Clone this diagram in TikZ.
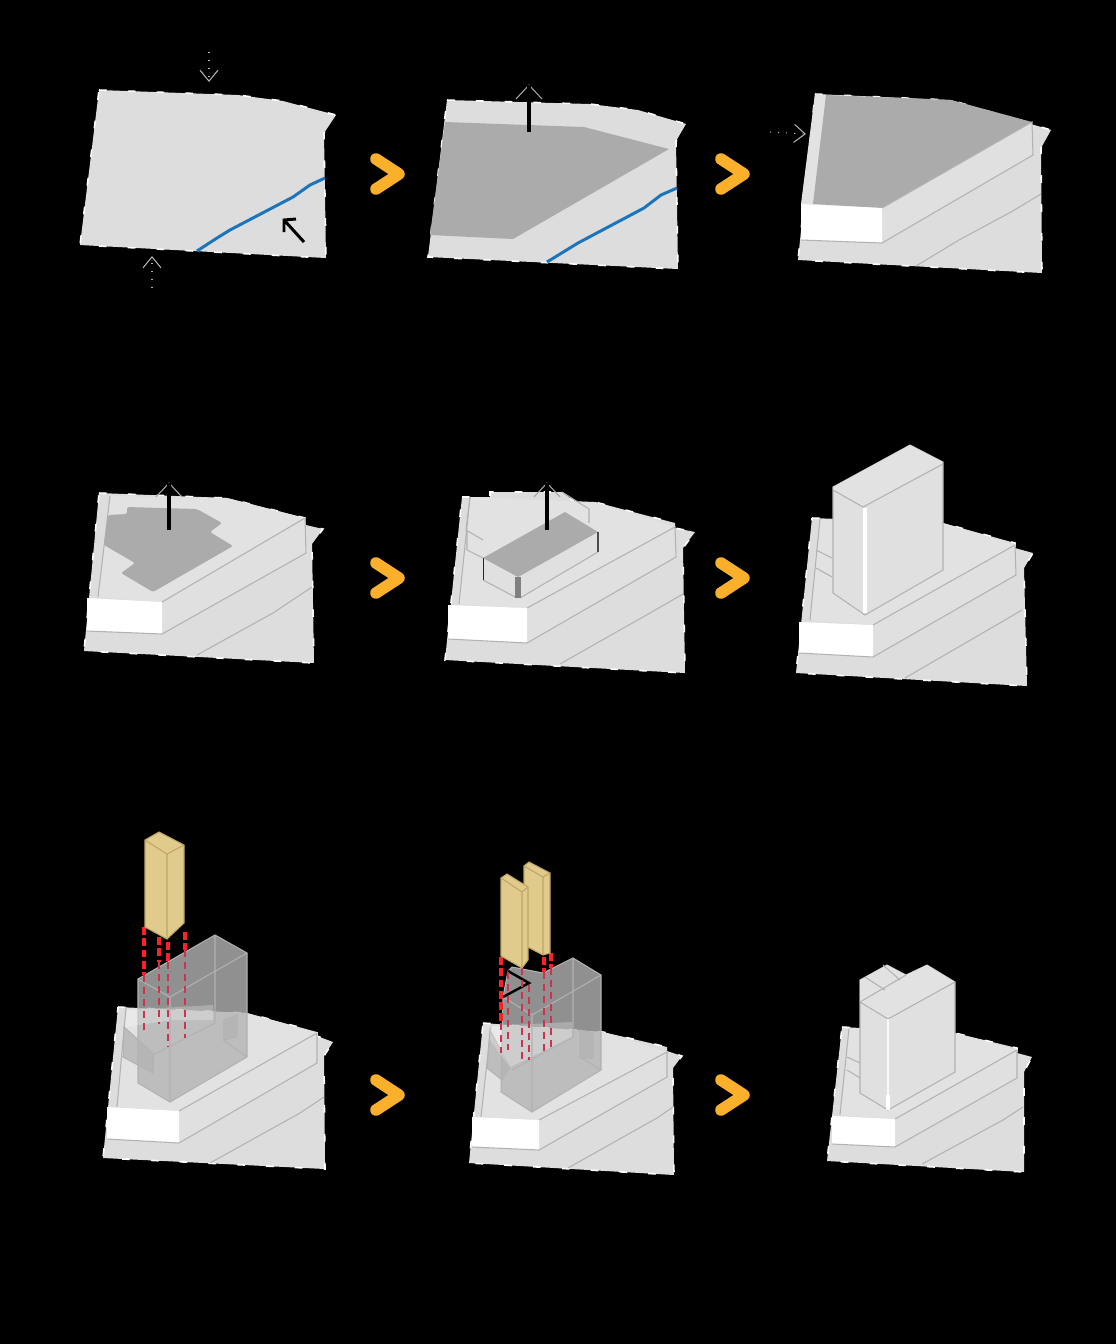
\documentclass[tikz,border=0pt]{standalone}
\usepackage{tikz}
\usetikzlibrary{arrows.meta,calc}
\definecolor{SiteGrey}{RGB}{221,221,221}
\definecolor{DeckGrey}{RGB}{226,226,226}
\definecolor{FaceGrey}{RGB}{224,224,224}
\definecolor{PlateGrey}{RGB}{171,171,171}
\definecolor{LineGrey}{RGB}{178,178,178}
\definecolor{RiverBlue}{RGB}{27,117,187}
\definecolor{ChevronOrange}{RGB}{251,176,44}
\definecolor{TowerTan}{RGB}{225,203,140}
\definecolor{TanLine}{RGB}{190,165,100}
\definecolor{GuideRed}{RGB}{255,32,40}
\definecolor{GhostRed}{RGB}{205,50,80}
\definecolor{GhostGrey}{RGB}{180,180,180}
\tikzset{
  sitefill/.style={fill=SiteGrey,draw=white,line width=0.45pt,dash pattern=on 2.2pt off 6pt},
  thinline/.style={draw=LineGrey,line width=0.3pt},
  riverline/.style={draw=RiverBlue,line width=0.85pt,line join=round},
  plate/.style={fill=PlateGrey},
  ghostmass/.style={fill=GhostGrey,fill opacity=0.8,draw=LineGrey,line width=0.3pt},
  towertan/.style={fill=TowerTan,draw=TanLine,line width=0.3pt},
  brightguide/.style={draw=GuideRed,line width=1.1pt,dash pattern=on 2.2pt off 1pt},
  thinguide/.style={draw=GhostRed,line width=0.45pt,dash pattern=on 2pt off 1.4pt},
  hintarrow/.style={draw=gray!60,line width=0.3pt,dotted,-{Straight Barb[length=1.1mm,width=1.8mm]}},
}
\newcommand{\nextchevron}[2]{%
  \draw[ChevronOrange,line width=3.3pt,line join=round,line cap=round] (#1-11,#2-15)--(#1+12,#2)--(#1-11,#2+15);}
\newcommand{\liftarrow}[3]{%
  \draw[gray!70,line width=0.3pt] (#1-13,#3+14)--(#1,#3)--(#1+13,#3+14);
  \draw[black,line width=0.9pt] (#1,#2)--(#1,#3);}
\newcommand{\plinth}[6]{%
  \fill[FaceGrey] #2--#5--#6--#3--cycle;
  \fill[white] #1--#2--#3--#4--cycle;
  \draw[thinline] #2--#5--#6--#3--#4;}
\begin{document}
\begin{tikzpicture}[x=0.01cm,y=-0.01cm]
  \fill[black] (0,0) rectangle (1116,1344);
  % row one
  \fill[sitefill] (99,90)--(238,95)--(283,101)--(336,115)--(324,133)--(326,258)--(80,245)--cycle;
  \draw[riverline] (197,251)--(217,238)--(230,230)--(293,197)--(310,185)--(325,178);
  \draw[black,line width=0.85pt] (304,242)--(284,220) (284,232)--(284,220)--(296,219);
  \draw[hintarrow] (209,52)--(209,82);
  \draw[hintarrow] (152,288)--(152,256);
  \nextchevron{387}{174}
  \fill[sitefill] (447,100)--(590,104)--(638,110)--(686,124)--(676,141)--(678,269)--(428,257)--cycle;
  \fill[plate] (445,122)--(584,127)--(669,149)--(513,239)--(430,235)--cycle;
  \draw[riverline] (547,262)--(578,243)--(644,208)--(661,195)--(677,188);
  \liftarrow{529}{132}{85}
  \nextchevron{732}{174}
  \fill[sitefill] (815,94)--(951,100)--(1051,130)--(1041,148)--(1042,273)--(798,260)--cycle;
  \fill[DeckGrey] (815,94)--(826,95)--(813,204)--(801,204)--cycle;
  \fill[plate] (826,95)--(951,100)--(1032,122)--(882,208)--(813,204)--cycle;
  \plinth{(801,204)}{(882,208)}{(882,243)}{(801,240)}{(1032,122)}{(1033,155)}
  \draw[thinline] (916,266)--(959,240)--(1011,212)--(1041,194);
  \draw[hintarrow] (770,132)--(806,134);
  % row two
  \fill[sitefill] (99,493)--(227,498)--(305,518)--(306,525)--(323,529)--(312,544)--(314,663)--(84,651)--cycle;
  \fill[DeckGrey] (110,496)--(227,498)--(305,518)--(162,602)--(98,597)--cycle;
  \draw[thinline] (110,496)--(98,597);
  \plinth{(87,598)}{(162,602)}{(162,634)}{(87,631)}{(305,518)}{(306,553)}
  \draw[thinline] (197,655)--(273,613)--(312,587);
  \fill[plate,rounded corners=0.6pt] (127,507)--(197,509)--(222,523)--(210,532)--(233,546)--(153,592)--(121,573)--(135,563)--(104,545)--(108,515)--(127,514)--cycle;
  \liftarrow{169}{530}{483}
  \nextchevron{387}{578}
  \fill[sitefill] (462,497)--(490,497)--(490,492)--(562,492)--(575,502)--(595,502)--(675,523)--(675,528)--(695,532)--(683,548)--(685,673)--(445,660)--cycle;
  \fill[DeckGrey] (470,497)--(595,502)--(675,527)--(527,608)--(459,604)--cycle;
  \draw[thinline] (470,497)--(459,604);
  \plinth{(448,605)}{(527,608)}{(527,643)}{(448,639)}{(675,527)}{(676,557)}
  \draw[thinline] (560,664)--(650,613)--(683,594);
  \draw[thinline] (470,497)--(466,530)--(483,540) (467,530)--(467,550)--(483,558) (562,492)--(589,509)--(589,523);
  \fill[FaceGrey] (483,558)--(518,577)--(598,532)--(598,552)--(520,598)--(517,598)--(483,580)--cycle;
  \draw[thinline] (483,580)--(517,598) (520,598)--(598,552);
  \fill[plate] (565,512)--(598,532)--(518,577)--(483,558)--cycle;
  \fill[gray] (515,577) rectangle (521,598);
  \fill[black!85] (482.5,558) rectangle (484,580);
  \fill[black!70] (597,532) rectangle (599,552);
  \liftarrow{547}{530}{483}
  \nextchevron{732}{578}
  \fill[sitefill] (812,518)--(943,523)--(1015,543)--(1015,548)--(1033,553)--(1024,568)--(1027,686)--(796,673)--cycle;
  \fill[DeckGrey] (820,519)--(943,523)--(1015,545)--(873,625)--(810,620)--cycle;
  \draw[thinline] (820,519)--(810,620);
  \plinth{(799,622)}{(873,625)}{(873,657)}{(799,653)}{(1015,545)}{(1016,575)}
  \draw[thinline] (905,678)--(993,627)--(1022,610);
  \draw[thinline] (816,550)--(832,558) (816,568)--(832,577);
  \fill[FaceGrey,draw=LineGrey,line width=0.3pt] (910,445)--(943,462)--(943,570)--(865,615)--(833,593)--(833,487)--cycle;
  \fill[DeckGrey] (910,445)--(943,462)--(863,507)--(833,490)--(833,487)--cycle;
  \draw[thinline] (833,490)--(863,507)--(943,464);
  \draw[white,line width=0.9pt] (865,508)--(865,613);
  % row three
  \fill[sitefill] (118,1007)--(247,1013)--(317,1032)--(317,1036)--(333,1042)--(324,1056)--(325,1169)--(103,1158)--cycle;
  \fill[DeckGrey] (126,1008)--(247,1013)--(317,1033)--(179,1111)--(117,1107)--cycle;
  \draw[thinline] (126,1008)--(117,1107);
  \plinth{(107,1107)}{(179,1111)}{(179,1143)}{(107,1139)}{(317,1033)}{(317,1063)}
  \draw[thinline] (210,1163)--(300,1113)--(324,1097);
  \fill[ghostmass] (124,1027)--(123,1057)--(153,1073)--(153,1053)--cycle;
  \fill[ghostmass] (224,1020)--(237,1015)--(237,1037)--(224,1040)--cycle;
  \fill[ghostmass] (215,935)--(247,953)--(247,1057)--(170,1102)--(138,1083)--(138,979)--cycle;
  \fill[white,fill opacity=0.25] (127,1010)--(213,1005)--(213,1020)--(173,1020)--(125,1027)--cycle;
  \draw[thinline] (138,979)--(170,997)--(247,953) (170,997)--(170,1102) (215,935)--(215,1023)--(153,1055)--(153,1070) (223,1040)--(247,1057);
  \draw[brightguide] (144,927)--(144,975);
  \draw[brightguide] (159,937)--(159,962);
  \draw[brightguide] (168,942)--(168,962);
  \draw[brightguide] (185,932)--(185,950);
  \draw[thinguide] (144,975)--(144,1033);
  \draw[thinguide] (159,962)--(159,1024);
  \draw[thinguide] (168,962)--(168,1047);
  \draw[thinguide] (185,950)--(185,1038);
  \fill[towertan] (159,832)--(184,845)--(184,923)--(167,939)--(145,927)--(145,840)--cycle;
  \draw[TanLine,line width=0.3pt] (145,840)--(167,854)--(184,845) (167,854)--(167,939);
  \nextchevron{387}{1095}
  \fill[sitefill] (483,1023)--(603,1032)--(667,1047)--(667,1051)--(682,1056)--(673,1068)--(674,1175)--(469,1163)--cycle;
  \fill[DeckGrey] (491,1026)--(603,1032)--(667,1052)--(539,1120)--(481,1117)--cycle;
  \draw[thinline] (491,1026)--(481,1117);
  \plinth{(472,1117)}{(539,1120)}{(539,1150)}{(472,1147)}{(667,1052)}{(667,1077)}
  \draw[thinline] (568,1168)--(657,1118)--(673,1107);
  \fill[ghostmass] (490,1030)--(487,1068)--(502,1080)--(510,1067)--cycle;
  \fill[ghostmass] (580,1030)--(593,1033)--(593,1058)--(580,1058)--cycle;
  \fill[ghostmass] (573,958)--(601,975)--(601,1070)--(532,1112)--(501,1092)--(503,997)--(508,971)--(512,967)--(543,973)--cycle;
  \fill[white,fill opacity=0.25] (490,1026)--(572,1022)--(572,1037)--(510,1067)--(490,1040)--cycle;
  \draw[thinline] (503,997)--(532,1015)--(601,975) (532,1015)--(532,1112) (573,958)--(573,1037)--(512,1070) (580,1057)--(601,1070);
  \draw[black,line width=0.7pt] (508,971)--(529,983)--(503,997);
  \draw[brightguide] (501,957)--(501,1023);
  \draw[brightguide] (544,957)--(544,972);
  \draw[brightguide] (551,953)--(551,968);
  \draw[thinguide] (501,1023)--(501,1053);
  \draw[thinguide] (508,972)--(508,1050);
  \draw[thinguide] (522,968)--(522,1063);
  \draw[thinguide] (529,985)--(529,1060);
  \draw[thinguide] (544,972)--(544,1052);
  \draw[thinguide] (551,968)--(551,1050);
  \fill[towertan] (529,862)--(550,873)--(550,953)--(543,955)--(524,945)--(524,866)--cycle;
  \draw[TanLine,line width=0.3pt] (524,866)--(543,877)--(550,873) (543,877)--(543,955);
  \fill[towertan] (507,874)--(528,887)--(528,960)--(522,968)--(501,956)--(501,878)--cycle;
  \draw[TanLine,line width=0.3pt] (501,878)--(522,892)--(528,887) (522,892)--(522,968);
  \nextchevron{732}{1095}
  \fill[sitefill] (842,1027)--(955,1033)--(1017,1048)--(1017,1053)--(1032,1057)--(1024,1072)--(1024,1172)--(827,1161)--cycle;
  \fill[DeckGrey] (849,1029)--(955,1033)--(1017,1050)--(895,1119)--(840,1115)--cycle;
  \draw[thinline] (849,1029)--(840,1115);
  \plinth{(832,1116)}{(895,1119)}{(895,1147)}{(832,1144)}{(1017,1050)}{(1017,1078)}
  \draw[thinline] (922,1164)--(1003,1120)--(1023,1107);
  \draw[thinline] (847,1057)--(860,1063) (847,1070)--(860,1078);
  \fill[FaceGrey,draw=LineGrey,line width=0.3pt] (927,965)--(955,982)--(955,1072)--(888,1110)--(860,1093)--(860,980)--(887,965)--(906,975)--cycle;
  \fill[DeckGrey] (927,965)--(955,982)--(888,1019)--(860,1002)--(860,980)--(887,965)--(906,975)--cycle;
  \draw[thinline] (860,1002)--(888,1019)--(955,982) (865,977)--(885,990) (883,965)--(900,980) (860,1002)--(906,975);
  \draw[white!80!FaceGrey,line width=0.7pt] (888,1019)--(888,1095);
  \draw[white,line width=0.9pt] (888,1095)--(888,1110);
\end{tikzpicture}
\end{document}
